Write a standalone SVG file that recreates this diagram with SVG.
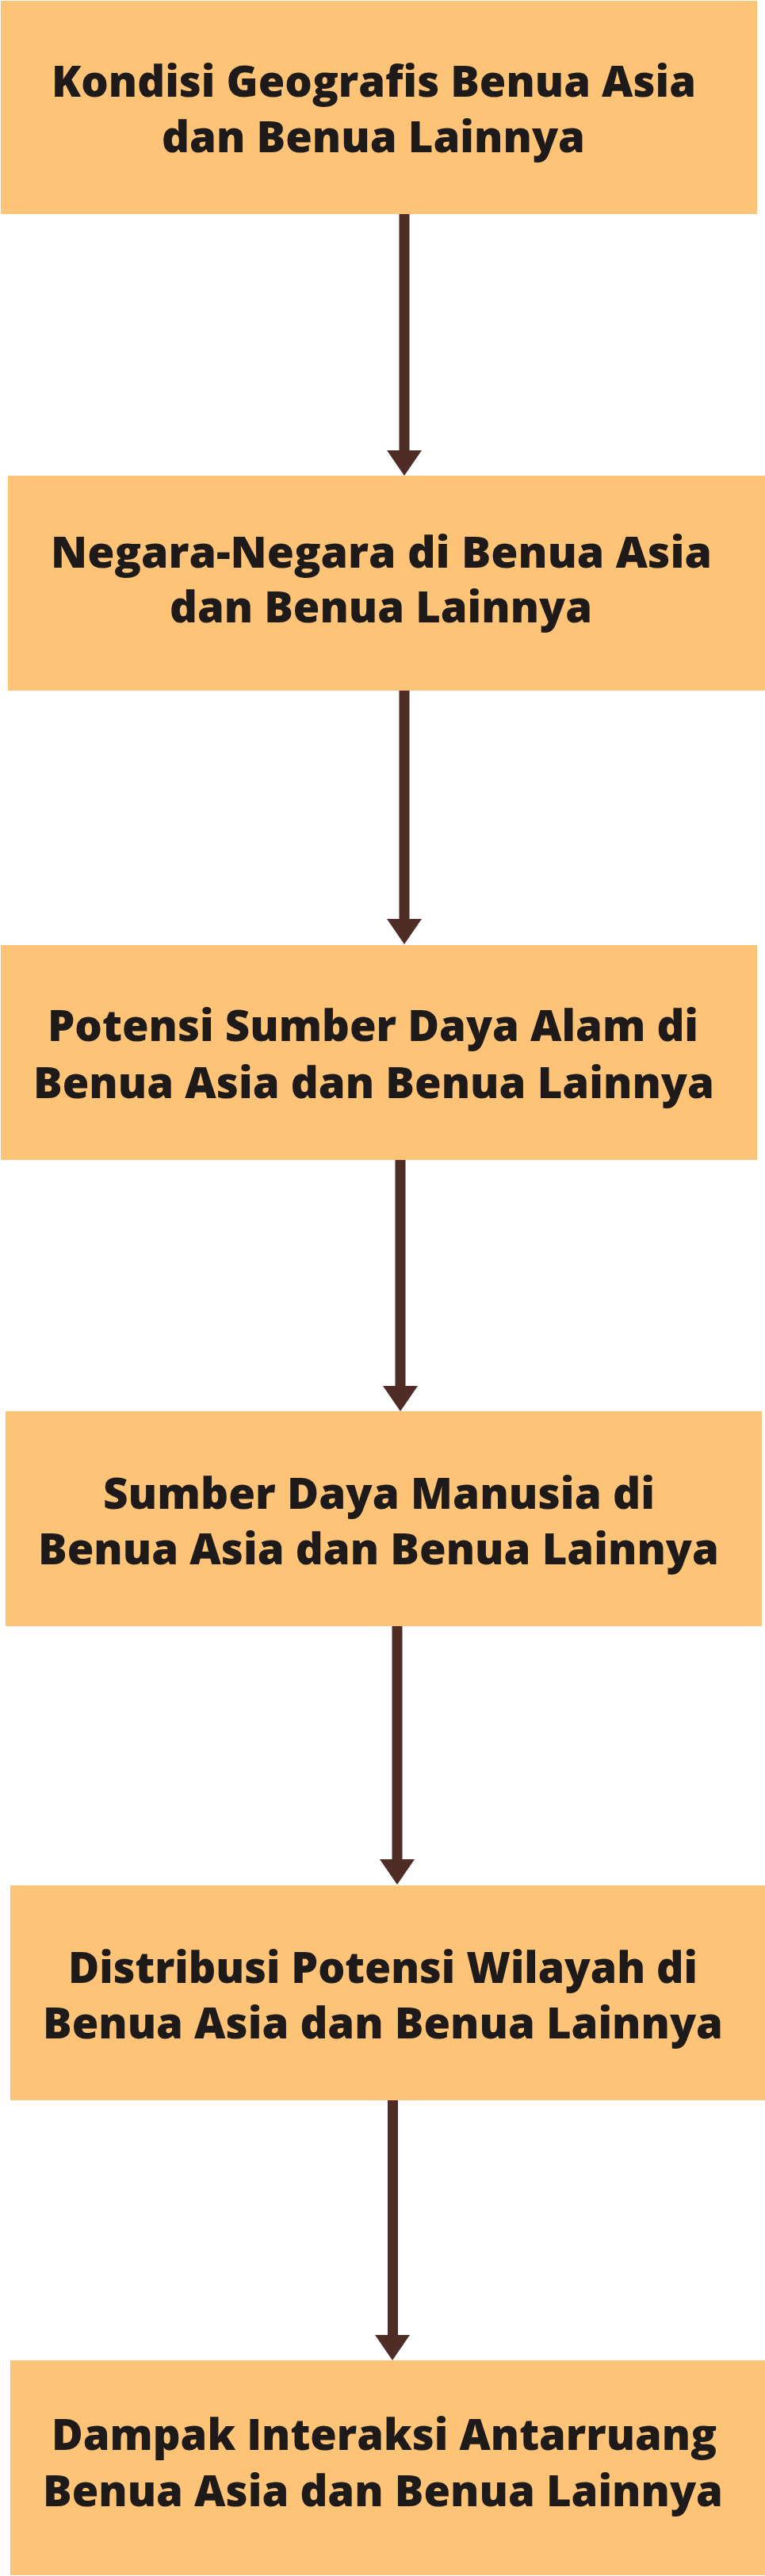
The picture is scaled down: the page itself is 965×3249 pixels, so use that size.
<svg xmlns="http://www.w3.org/2000/svg" width="965" height="3249" viewBox="0 0 965 3249">
<style>
.box{fill:#FDC477;}
.t{font-family:"Open Sans","Liberation Sans",sans-serif;font-weight:800;font-size:54px;fill:#1E1A1A;}
.ln{stroke:#4F2D26;stroke-width:13;fill:none;}
.hd{fill:#4F2D26;}
</style>
<rect width="965" height="3249" fill="#ffffff"/>
<g id="connectors">
<line class="ln" x1="510" y1="270" x2="510" y2="570"/><polygon class="hd" points="488,568 532,568 510,600"/>
<line class="ln" x1="510" y1="871" x2="510" y2="1161"/><polygon class="hd" points="488,1159 532,1159 510,1191"/>
<line class="ln" x1="505" y1="1463" x2="505" y2="1750"/><polygon class="hd" points="483,1748 527,1748 505,1780"/>
<line class="ln" x1="501" y1="2051" x2="501" y2="2347"/><polygon class="hd" points="479,2345 523,2345 501,2377"/>
<line class="ln" x1="495.5" y1="2649" x2="495.5" y2="2947"/><polygon class="hd" points="473,2945 517,2945 495,2977"/>
</g>
<g id="n1"><rect class="box" x="1" y="1" width="954" height="269"/>
<text class="t" x="65" y="122" textLength="813" lengthAdjust="spacingAndGlyphs">Kondisi Geografis Benua Asia</text>
<text class="t" x="204" y="192" textLength="534" lengthAdjust="spacingAndGlyphs">dan Benua Lainnya</text></g>
<g id="n2"><rect class="box" x="10" y="600" width="955" height="271"/>
<text class="t" x="64" y="716" textLength="834" lengthAdjust="spacingAndGlyphs">Negara-Negara di Benua Asia</text>
<text class="t" x="214" y="785" textLength="533" lengthAdjust="spacingAndGlyphs">dan Benua Lainnya</text></g>
<g id="n3"><rect class="box" x="1" y="1192" width="954" height="271"/>
<text class="t" x="60" y="1313" textLength="821" lengthAdjust="spacingAndGlyphs">Potensi Sumber Daya Alam di</text>
<text class="t" x="42" y="1385" textLength="859" lengthAdjust="spacingAndGlyphs">Benua Asia dan Benua Lainnya</text></g>
<g id="n4"><rect class="box" x="7" y="1780" width="954" height="271"/>
<text class="t" x="130" y="1903" textLength="696" lengthAdjust="spacingAndGlyphs">Sumber Daya Manusia di</text>
<text class="t" x="48" y="1973" textLength="859" lengthAdjust="spacingAndGlyphs">Benua Asia dan Benua Lainnya</text></g>
<g id="n5"><rect class="box" x="13" y="2378" width="952" height="271"/>
<text class="t" x="86" y="2501" textLength="794" lengthAdjust="spacingAndGlyphs">Distribusi Potensi Wilayah di</text>
<text class="t" x="54" y="2571" textLength="858" lengthAdjust="spacingAndGlyphs">Benua Asia dan Benua Lainnya</text></g>
<g id="n6"><rect class="box" x="13" y="2977" width="952" height="271"/>
<text class="t" x="65" y="3090" textLength="839" lengthAdjust="spacingAndGlyphs">Dampak Interaksi Antarruang</text>
<text class="t" x="54" y="3161" textLength="858" lengthAdjust="spacingAndGlyphs">Benua Asia dan Benua Lainnya</text></g>
</svg>
